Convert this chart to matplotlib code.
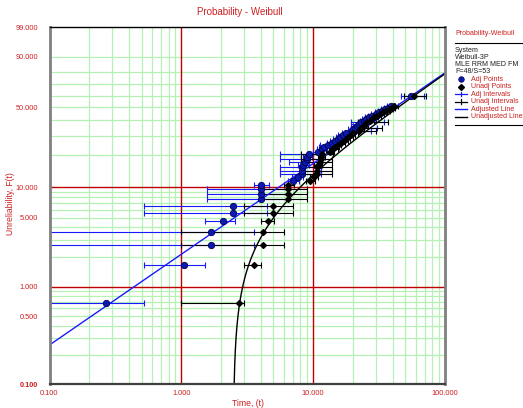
import numpy as np
import matplotlib
matplotlib.use('Agg')
import matplotlib.pyplot as plt
from matplotlib.ticker import NullLocator, FixedLocator, FixedFormatter

# ---------------- data ----------------
F_pct = [0.68, 1.65, 2.64, 3.60, 4.59, 5.62, 6.56, 7.63, 8.60, 9.57, 10.60,
         11.55, 12.51, 13.48, 14.46, 15.45, 16.45, 17.46, 18.48, 19.51, 20.55,
         21.60, 22.66, 23.73, 24.81, 25.90, 27.00, 28.11, 29.23, 30.36, 31.50,
         32.65, 33.81, 34.98, 36.16, 37.35, 38.55, 39.76, 40.98, 42.21, 43.45,
         44.70, 45.96, 47.23, 48.51, 49.80, 51.10, 59.90]
t_unadj = [2.75, 3.53, 4.16, 4.16, 4.54, 4.95, 4.95, 6.47, 6.47, 6.47, 6.47,
           9.53, 10.1, 10.76, 10.76, 10.76, 10.9, 11.2, 11.5, 11.5, 11.73,
           13.4, 14.2, 14.6, 15.4, 16.3, 17.0, 17.8, 18.5, 19.3, 20.2,
           22.1, 22.5, 23.2, 24.1, 24.8, 25.5, 26.8, 27.8, 29.0, 30.5,
           32.3, 34.0, 35.8, 37.5, 39.3, 41.3, 58.0]
t_lo = [1.00, 3.00, 1.00, 1.00, 4.00, 3.00, 3.00, 4.05, 4.05, 4.05, 6.03,
        8.9, 9.4, 8.1, 8.1, 8.1, 10.2, 9.0, 8.1, 10.8, 8.1,
        12.5, 13.2, 13.6, 13.8, 15.2, 15.8, 16.6, 17.3, 18.0, 18.9,
        21.1, 21.0, 22.0, 22.5, 22.0, 22.0, 25.0, 26.0, 27.0, 28.4,
        30.1, 31.7, 33.4, 35.0, 36.7, 38.5, 49.2]
t_hi = [3.00, 4.00, 6.03, 6.03, 5.02, 6.98, 6.98, 8.97, 8.97, 8.97, 7.10,
        10.3, 10.9, 13.9, 13.9, 13.9, 11.7, 13.9, 13.9, 12.3, 14.2,
        14.4, 15.3, 15.8, 16.4, 17.5, 18.3, 19.1, 19.9, 20.7, 21.7,
        30.0, 24.1, 33.0, 25.9, 25.7, 37.2, 28.8, 29.8, 31.1, 32.7,
        34.6, 36.4, 38.3, 40.1, 42.1, 44.2, 71.8]

beta, eta, gamma = 0.931, 61.5, 2.48

x_ticks = [0.1, 1, 10, 100]
x_tick_labels = ['0.100', '1.000', '10.000', '100.000']
y_ticks = [0.1, 0.5, 1, 5, 10, 50, 90, 99]
y_tick_labels = ['0.100', '0.500', '1.000', '5.000', '10.000', '50.000', '90.000', '99.000']

legend_header = ['System', 'Weibull-3P', 'MLE RRM MED FM', 'F=48/S=53']
legend_entries = ['Adj Points', 'Unadj Points', 'Adj Intervals', 'Unadj Intervals',
                  'Adjusted Line', 'Unadjusted Line']

# ---------------- style ----------------
RED = '#cc2020'
GRID_RED = '#c00000'
GREEN = '#b4f2b4'
BLUE = '#1a1aff'
plt.rcParams['font.family'] = ['Liberation Sans', 'DejaVu Sans']

W, H = 523, 408
fig = plt.figure(figsize=(W / 100, H / 100), dpi=100)
fig.patch.set_facecolor('white')

L, R, T, B = 49.5, 445.0, 27.3, 384.3
ax = fig.add_axes([L / W, 1 - B / H, (R - L) / W, (B - T) / H])


def fwd(F):
    F = np.clip(np.asarray(F, dtype=float), 1e-7, 100 - 1e-7)
    return np.log(-np.log(1 - F / 100.0))


def inv(w):
    w = np.clip(np.asarray(w, dtype=float), -40, 5)
    return 100.0 * (1 - np.exp(-np.exp(w)))


ax.set_xscale('log')
ax.set_yscale('function', functions=(fwd, inv))
ax.set_xlim(0.1, 100)
ax.set_ylim(0.1, 99)

# grid
xgreen = [m * 10.0 ** d for d in (-1, 0, 1) for m in range(2, 10)]
ygreen = [m * 10.0 ** d for d in (-1, 0, 1) for m in range(2, 10)]
for xv in xgreen:
    ax.axvline(xv, color=GREEN, lw=0.9, zorder=1)
for yv in ygreen:
    ax.axhline(yv, color=GREEN, lw=0.9, zorder=1)
for v in (1, 10):
    ax.axvline(v, color=GRID_RED, lw=1.0, zorder=1.2)
    ax.axhline(v, color=GRID_RED, lw=1.0, zorder=1.2)

F = np.array(F_pct)
tu = np.array(t_unadj)
lo = np.array(t_lo)
hi = np.array(t_hi)
ta = tu - gamma
alo = np.where(lo - gamma > 0, lo - gamma, 0.01)
ahi = hi - gamma

# intervals
ax.errorbar(ta, F, xerr=[ta - alo, ahi - ta], fmt='none', ecolor=BLUE,
            elinewidth=0.8, capsize=2.0, capthick=0.8, zorder=3)
ax.errorbar(tu, F, xerr=[tu - lo, hi - tu], fmt='none', ecolor='black',
            elinewidth=0.8, capsize=2.0, capthick=0.8, zorder=3.5)

# lines
t_line = np.logspace(-1, 2, 500)
ax.plot(t_line, 100 * (1 - np.exp(-(t_line / eta) ** beta)), color=BLUE, lw=1.0, zorder=4)
t_c = gamma + np.logspace(-4, np.log10(100 - gamma), 800)
ax.plot(t_c, 100 * (1 - np.exp(-((t_c - gamma) / eta) ** beta)), color='black', lw=1.0, zorder=4)

# points
ax.plot(ta, F, 'o', ms=4.6, mfc='#0a1ab0', mec='#000050', mew=0.6, ls='none', zorder=5)
ax.plot(tu, F, 'D', ms=3.0, mfc='black', mec='black', ls='none', zorder=6)

# ticks
ax.xaxis.set_major_locator(FixedLocator(x_ticks))
ax.xaxis.set_major_formatter(FixedFormatter(x_tick_labels))
ax.xaxis.set_minor_locator(NullLocator())
ax.yaxis.set_major_locator(FixedLocator(y_ticks))
ax.yaxis.set_major_formatter(FixedFormatter(y_tick_labels))
ax.yaxis.set_minor_locator(NullLocator())
ax.tick_params(axis='both', length=0, labelsize=5.3, labelcolor=RED)
ax.tick_params(axis='y', pad=8)
ax.tick_params(axis='x', pad=4)
ylabs = ax.get_yticklabels()
ylabs[0].set_fontweight('bold')

# spines
ax.spines['left'].set_color('#808080'); ax.spines['left'].set_linewidth(2.0)
ax.spines['right'].set_color('#808080'); ax.spines['right'].set_linewidth(2.0)
ax.spines['bottom'].set_color('#404040'); ax.spines['bottom'].set_linewidth(1.6)
ax.spines['top'].set_color('black'); ax.spines['top'].set_linewidth(1.0)
for s in ax.spines.values():
    s.set_zorder(7)

# titles
fig.text(240 / W, 1 - 12 / H, 'Probability - Weibull', color=RED, fontsize=7,
         ha='center', va='center')
fig.text(247.5 / W, 1 - 403 / H, 'Time, (t)', color=RED, fontsize=6.2,
         ha='center', va='center')
fig.text(10.5 / W, 1 - 204 / H, 'Unreliability, F(t)', color=RED, fontsize=6.2,
         ha='center', va='center', rotation=90)

# legend panel (pixel coordinates)
lg = fig.add_axes([450 / W, 1 - 130 / H, 73 / W, 103 / H])
lg.set_xlim(450, 523)
lg.set_ylim(130, 27)
lg.axis('off')
lg.text(455, 33.3, 'Probability-Weibull', color=RED, fontsize=5.1, va='center', ha='left')
lg.plot([455, 523], [42.7, 42.7], color='black', lw=0.8)
for i, s in enumerate(legend_header):
    lg.text(455, 50 + i * 7.2, s, color='#202020', fontsize=5.1, va='center', ha='left')
ys = [79.3 + i * 7.45 for i in range(len(legend_entries))]
for yv, s in zip(ys, legend_entries):
    lg.text(470.7, yv, s, color=RED, fontsize=5.1, va='center', ha='left')
lg.plot([460.7], [ys[0]], 'o', ms=4.0, mfc='#0a1ab0', mec='#000050', mew=0.5)
lg.plot([460.7], [ys[1]], 'D', ms=3.0, mfc='black', mec='black')
lg.plot([455, 467], [ys[2], ys[2]], color=BLUE, lw=0.9)
lg.plot([460.7, 460.7], [ys[2] - 2.2, ys[2] + 2.2], color=BLUE, lw=0.9)
lg.plot([455, 467], [ys[3], ys[3]], color='black', lw=0.9)
lg.plot([460.7, 460.7], [ys[3] - 2.2, ys[3] + 2.2], color='black', lw=0.9)
lg.plot([455, 467], [ys[4], ys[4]], color=BLUE, lw=1.0)
lg.plot([455, 467], [ys[5], ys[5]], color='black', lw=1.0)
lg.plot([455, 523], [125.3, 125.3], color='black', lw=0.8)

fig.savefig('out.png', dpi=100)
